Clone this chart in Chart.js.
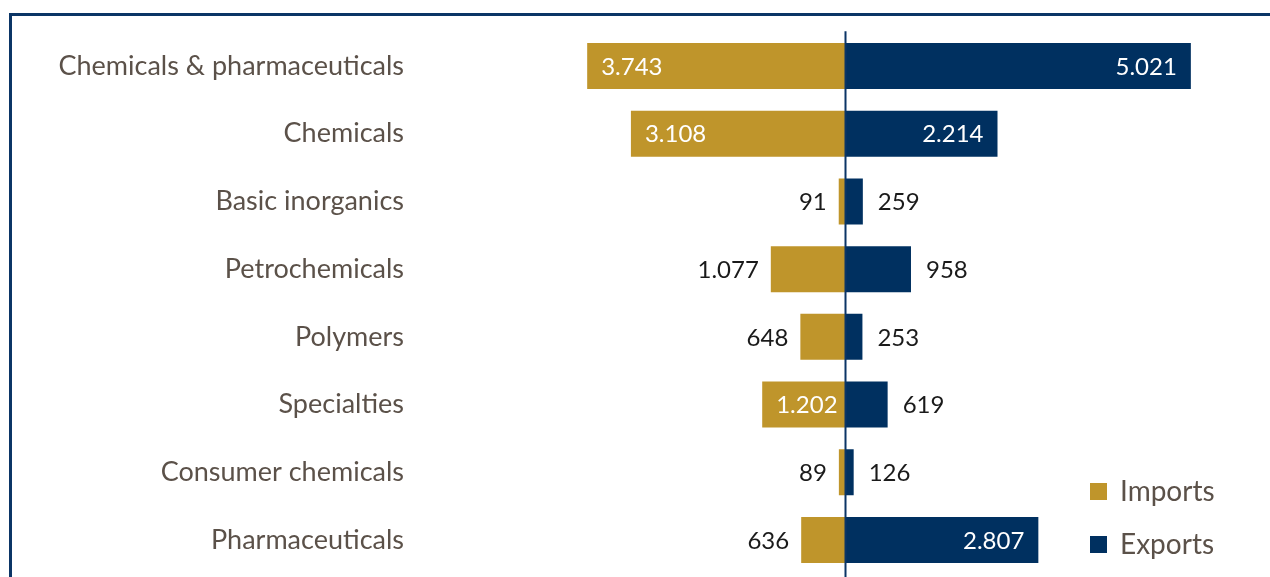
<!DOCTYPE html>
<html>
<head>
<meta charset="utf-8">
<script src="https://cdn.jsdelivr.net/npm/chart.js@4.4.0/dist/chart.umd.min.js"></script>
<style>
  html,body{margin:0;padding:0;background:#fff;}
  #wrap{position:relative;width:1270px;height:577px;overflow:hidden;}
  #frame{position:absolute;left:9px;top:13px;right:-10px;bottom:-10px;border-top:3px solid #0b3566;border-left:3px solid #0b3566;}
  canvas{position:absolute;left:0;top:0;}
</style>
</head>
<body>
<div id="wrap">
  <div id="frame"></div>
  <canvas id="chart" width="1270" height="606"></canvas>
</div>
<script>
// values
const categories = ['Chemicals & pharmaceuticals','Chemicals','Basic inorganics','Petrochemicals','Polymers','Specialties','Consumer chemicals','Pharmaceuticals'];
const imports = [3743, 3108, 91, 1077, 648, 1202, 89, 636];
const exports = [5021, 2214, 259, 958, 253, 619, 126, 2807];

const GOLD = '#bf952b';
const NAVY = '#003060';
const LABEL = '#5b5149';
const FONT = 'Lato, "Noto Sans", sans-serif';

function fmt(v){ return Math.abs(v).toString().replace(/\B(?=(\d{3})+(?!\d))/g, '.'); }

// value labels, inside the bar end for big bars, outside for small ones
const valueLabels = {
  id:'valueLabels',
  afterDatasetsDraw(chart){
    const c = chart.ctx;
    c.save();
    c.font = '24px ' + FONT;
    c.textBaseline = 'middle';
    chart.data.datasets.forEach((ds, di)=>{
      const meta = chart.getDatasetMeta(di);
      meta.data.forEach((bar, i)=>{
        const v = ds.raw[i];
        const neg = di===0;
        const inside = v > 1150;
        let x;
        if(inside){
          c.fillStyle = '#fff';
          c.textAlign = neg ? 'left' : 'right';
          x = neg ? bar.x + 14 : bar.x - 14;
        } else {
          c.fillStyle = '#1a1a1a';
          c.textAlign = neg ? 'right' : 'left';
          x = neg ? bar.x - 12 : bar.x + 15;
        }
        c.fillText(fmt(v), x, bar.y + 1);
      });
    });
    c.restore();
  }
};

// zero line from top of plot down past the bottom of the window
const zeroLine = {
  id:'zeroLine',
  afterDatasetsDraw(chart){
    const c = chart.ctx;
    const x = Math.round(chart.scales.x.getPixelForValue(0)) + 0.5;
    c.save();
    c.strokeStyle = '#0b3566';
    c.lineWidth = 2;
    c.beginPath();
    c.moveTo(x, chart.chartArea.top - 1);
    c.lineTo(x, chart.height);
    c.stroke();
    c.restore();
  }
};

// stacked legend at the bottom right
const sideLegend = {
  id:'sideLegend',
  afterDraw(chart){
    const c = chart.ctx;
    c.save();
    c.font = '28px ' + FONT;
    c.textBaseline = 'middle';
    c.textAlign = 'left';
    chart.data.datasets.forEach((ds, i)=>{
      const y = 491 + i*53;
      c.fillStyle = ds.backgroundColor;
      c.fillRect(1090, y - 8, 17, 17);
      c.fillStyle = LABEL;
      c.fillText(ds.label, 1120, y + 1);
    });
    c.restore();
  }
};

new Chart(document.getElementById('chart'), {
  type:'bar',
  data:{
    labels: categories,
    datasets:[
      { label:'Imports', data: imports.map(v=>-v), raw: imports, backgroundColor: GOLD },
      { label:'Exports', data: exports, raw: exports, backgroundColor: NAVY }
    ]
  },
  options:{
    indexAxis:'y',
    responsive:false,
    animation:false,
    devicePixelRatio:1,
    layout:{ padding:{ top:28, bottom:0, left:0, right:0 } },
    datasets:{ bar:{ categoryPercentage:1, barPercentage:0.68 } },
    plugins:{ legend:{ display:false }, tooltip:{ enabled:false } },
    scales:{
      x:{ stacked:true, display:false, min:-6170, max:6170 },
      y:{
        stacked:true,
        grid:{ display:false, drawTicks:false },
        border:{ display:false },
        ticks:{ color: LABEL, font:{ family: FONT, size:27 }, padding:16 },
        afterFit(s){ s.width = 420; }
      }
    }
  },
  plugins:[valueLabels, zeroLine, sideLegend]
});
</script>
</body>
</html>
